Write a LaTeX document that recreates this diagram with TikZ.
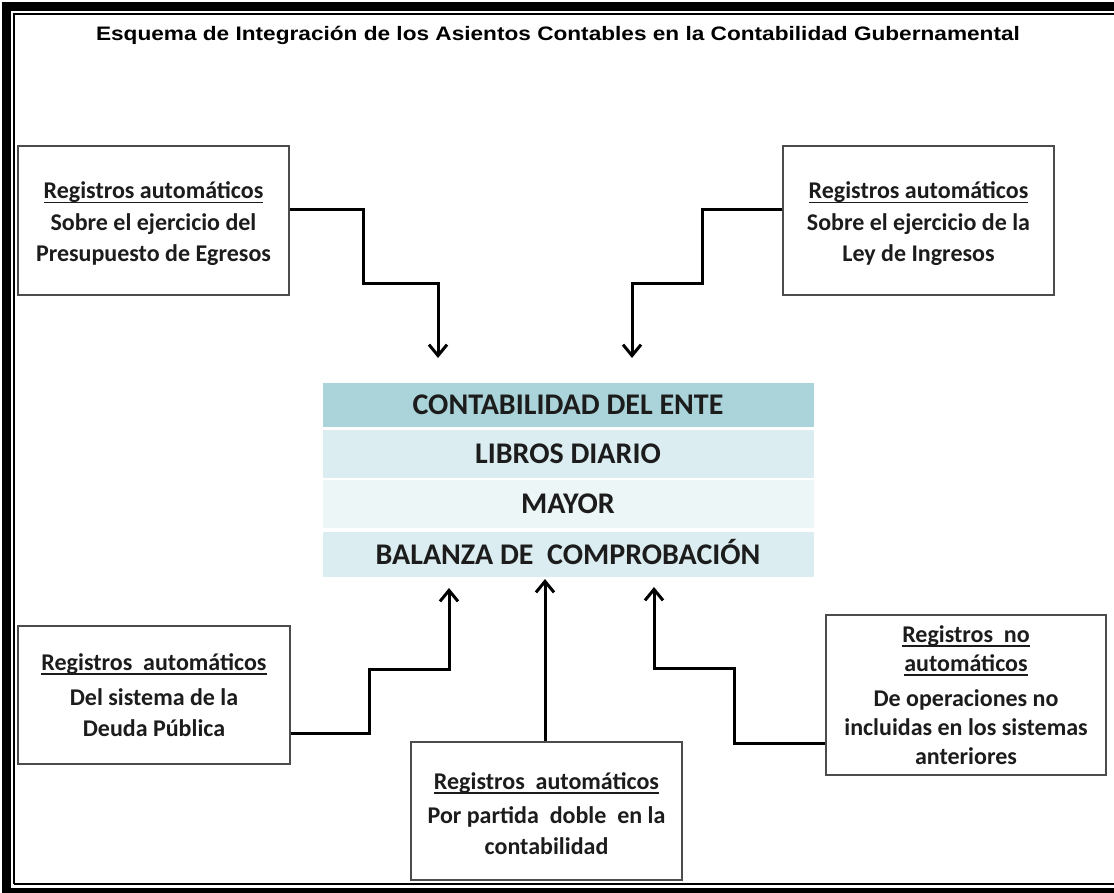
\documentclass[tikz,border=0pt]{standalone}
\usepackage{fontspec}
\setmainfont{Carlito}
\newfontfamily\titlefont{Liberation Sans}
\usetikzlibrary{arrows.meta}
\definecolor{hdr}{RGB}{170,212,217}
\definecolor{rowa}{RGB}{219,237,240}
\definecolor{rowb}{RGB}{237,246,247}
\definecolor{txt}{RGB}{28,28,28}
\newcommand\ulr[1]{\setbox0\hbox{#1}\rlap{\raisebox{-4.5pt}{\rule{\wd0}{1.6pt}}}\box0}
\begin{document}
\begin{tikzpicture}[x=1pt,y=-1pt,
  box/.style={draw=black!70, line width=1.6pt, fill=white, align=center,
    font=\bfseries\fontsize{24}{31}\selectfont, text=txt, inner sep=0pt},
  row/.style={minimum width=491pt, inner sep=0pt, text height=19pt, text depth=0pt,
    font=\bfseries\fontsize{30}{32}\selectfont, text=txt},
  flow/.style={line width=3pt, -{Straight Barb[length=11pt,width=18pt]}}]
\useasboundingbox (0,0) rectangle (1114,893);
% frame
\fill[black] (2,2) rectangle (1114,11);
\fill[black] (2,2) rectangle (11,893);
\fill[black] (2,888) rectangle (1114,893);
\draw[line width=2pt] (14,884) -- (14,14) -- (1114,14);
\draw[line width=2pt] (14,884) -- (1114,884);
% title
\node (title) at (558,41) [anchor=base, inner sep=0pt, font=\titlefont\bfseries\fontsize{19.5}{21}\selectfont]
  {\scalebox{1.16}[1]{Esquema de Integración de los Asientos Contables en la Contabilidad Gubernamental}};
% central table
\node[row, fill=hdr, minimum height=44pt] (r1) at (568,405) {CONTABILIDAD DEL ENTE};
\node[row, fill=rowa, minimum height=48pt] (r2) at (568,454) {LIBROS DIARIO};
\node[row, fill=rowb, minimum height=48pt] (r3) at (568,504) {MAYOR};
\node[row, fill=rowa, minimum height=45pt] (r4) at (568,554.5) {BALANZA DE\ \ COMPROBACIÓN};
% boxes
\node[box, minimum width=271pt, minimum height=149pt] (b1) at (153.5,220.5)
  {\rule{0pt}{24pt}\ulr{Registros automáticos}\\[1pt] Sobre el ejercicio del\\ Presupuesto de Egresos};
\node[box, minimum width=271pt, minimum height=149pt] (b2) at (918.5,220.5)
  {\rule{0pt}{24pt}\ulr{Registros automáticos}\\[1pt] Sobre el ejercicio de la\\ Ley de Ingresos};
\node[box, minimum width=272pt, minimum height=138pt] (b3) at (154,695)
  {\ulr{Registros\ \ automáticos}\\[4pt] Del sistema de la\\ Deuda Pública};
\node[box, minimum width=271pt, minimum height=138pt] (b4) at (546.5,811)
  {\rule{0pt}{22pt}\ulr{Registros\ \ automáticos}\\[3pt] Por partida\ \ doble\ \ en la\\ contabilidad};
\node[box, minimum width=280pt, minimum height=160pt] (b5) at (966,695)
  {\ulr{Registros\ \ no}\\[-2pt] \ulr{automáticos}\\[4pt] De operaciones no\\[-2pt] incluidas en los sistemas\\[-2pt] anteriores};
% arrow end points
\coordinate (e1) at (438,358);
\coordinate (e2) at (632,358);
\coordinate (e3) at (449,588);
\coordinate (e4) at (545,579);
\coordinate (e5) at (654,587);
% connectors
\draw[flow] ([yshift=10.5pt]b1.east) -| (363,284) -| (e1);
\draw[flow] ([yshift=10.5pt]b2.west) -| (702,284) -| (e2);
\draw[flow] ([yshift=-38pt]b3.east) -| (369,669) -| (e3);
\draw[flow] (b4.north -| e4) -- (e4);
\draw[flow] ([yshift=-48pt]b5.west) -| (734,668) -| (e5);
\end{tikzpicture}
\end{document}
